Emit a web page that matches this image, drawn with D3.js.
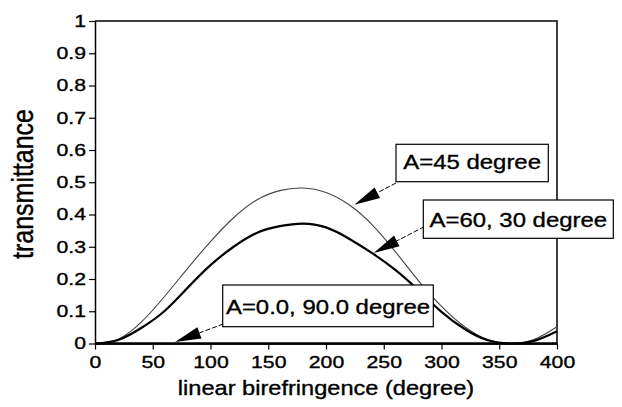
<!DOCTYPE html>
<html><head><meta charset="utf-8">
<script src="https://cdn.jsdelivr.net/npm/d3@7"></script>
<style>
html,body{margin:0;padding:0;background:#fff;}
svg{display:block;}
text{font-family:"Liberation Sans",Arial,Helvetica,sans-serif;fill:#000;stroke:#000;stroke-width:0.35px;}
</style></head>
<body>
<svg id="chart" width="622" height="407"></svg>
<script>
// ---- data ----
const birefringence = [0,20,40,60,80,100,120,140,160,180,200,220,240,260,280,300,320,340,360,380,400];
const transA45   = [0,0.013,0.066,0.145,0.232,0.316,0.39,0.445,0.474,0.482,0.468,0.43,0.368,0.285,0.195,0.115,0.052,0.012,0,0.012,0.052];
const transA6030 = [0,0.011,0.048,0.1,0.172,0.243,0.3,0.343,0.364,0.372,0.36,0.325,0.28,0.228,0.165,0.098,0.045,0.01,0,0.008,0.038];
const transA0090 = [0,0,0,0,0,0,0,0,0,0,0,0,0,0,0,0,0,0,0,0,0];
const xTicks = [0,50,100,150,200,250,300,350,400];
const xTickLabels = ["0","50","100","150","200","250","300","350","400"];
const yTicks = [0,0.1,0.2,0.3,0.4,0.5,0.6,0.7,0.8,0.9,1];
const yTickLabels = ["0","0.1","0.2","0.3","0.4","0.5","0.6","0.7","0.8","0.9","1"];
const annotationLabels = ["A=45 degree","A=60, 30 degree","A=0.0, 90.0 degree"];
// arrow tips in data units (birefringence, transmittance)
const arrowTipX = [224.5, 241.3, 69.3];
const arrowTipY = [0.43, 0.281, 0.005];
const xTitle = "linear birefringence (degree)";
const yTitle = "transmittance";

// ---- layout ----
const L = 95, R = 557, T = 21, B = 343.5;
const svg = d3.select("#chart");
const x = d3.scaleLinear().domain([0,400]).range([L,R]);
const y = d3.scaleLinear().domain([0,1]).range([B,T]);

// frame (top & right)
svg.append("path").attr("d",`M${L},${T}H${R}V${B}`).attr("fill","none").attr("stroke","#000").attr("stroke-width",1.5);

// axes
const tickStretch = 1.25;
const gx = svg.append("g").attr("transform",`translate(0,${B})`)
  .call(d3.axisBottom(x).tickValues(xTicks).tickFormat((d,i)=>xTickLabels[i]).tickSize(6).tickSizeOuter(0).tickPadding(6));
const gy = svg.append("g").attr("transform",`translate(${L},0)`)
  .call(d3.axisLeft(y).tickValues(yTicks).tickFormat((d,i)=>yTickLabels[i]).tickSize(6).tickSizeOuter(0).tickPadding(3));
[gx,gy].forEach(g=>{
  g.select(".domain").attr("stroke","#000").attr("stroke-width",1.5);
  g.selectAll(".tick line").attr("stroke","#000").attr("stroke-width",1.2);
  g.selectAll(".tick text").attr("font-size",17).attr("font-family","Liberation Sans, Arial, sans-serif")
    .attr("fill","#000").attr("stroke","#000").attr("stroke-width",0.4);
});
gy.selectAll(".tick text").attr("x",-9/tickStretch).attr("transform",`scale(${tickStretch},1)`);
gx.selectAll(".tick text").attr("transform",`scale(${tickStretch},1)`);

// curves
const pts = arr => birefringence.map((d,i)=>[d,arr[i]]);
const line = d3.line().x(d=>x(d[0])).y(d=>y(d[1])).curve(d3.curveNatural);
svg.append("path").datum(pts(transA45)).attr("d",line).attr("fill","none").attr("stroke","#444").attr("stroke-width",1.1);
svg.append("path").datum(pts(transA6030)).attr("d",line).attr("fill","none").attr("stroke","#000").attr("stroke-width",2.2);
svg.append("path").datum(pts(transA0090)).attr("d",line).attr("fill","none").attr("stroke","#000").attr("stroke-width",2.5);

// annotation boxes (pixel geometry) and arrows
const boxes = [
  {x:396,   y:144.3, w:152.3, h:37.4, base:24.5, sx:396,   sy:183},
  {x:423.3, y:200,   w:190,   h:38.3, base:26.5, sx:424.3, sy:226.7},
  {x:222.7, y:285,   w:210.6, h:41.7, base:28.5, sx:223.3, sy:324}
];
boxes.forEach((b,i)=>{
  const tx = x(arrowTipX[i]), ty = y(arrowTipY[i]);
  const dx = tx-b.sx, dy = ty-b.sy, len = Math.hypot(dx,dy);
  const ux = dx/len, uy = dy/len, nx = -uy, ny = ux;
  const HL = 26, HW = 6;
  const bx = tx-ux*HL, by = ty-uy*HL;
  svg.append("line").attr("x1",b.sx).attr("y1",b.sy).attr("x2",bx).attr("y2",by)
    .attr("stroke","#000").attr("stroke-width",1).attr("stroke-dasharray","5,2");
  svg.append("path").attr("d",`M${tx},${ty}L${bx+nx*HW},${by+ny*HW}L${bx-nx*HW},${by-ny*HW}Z`).attr("fill","#000");
  svg.append("rect").attr("x",b.x).attr("y",b.y).attr("width",b.w).attr("height",b.h)
    .attr("fill","#fff").attr("stroke","#000").attr("stroke-width",1.2);
  svg.append("text").attr("transform",`translate(${b.x+b.w/2},${b.y+b.base}) scale(1.14,1)`)
    .attr("text-anchor","middle").attr("font-size",21).text(annotationLabels[i]);
});

// titles
svg.append("text").attr("transform",`translate(${(L+R)/2},395) scale(1.18,1)`)
  .attr("text-anchor","middle").attr("font-size",20).text(xTitle);
svg.append("text").attr("transform",`translate(33,184) scale(1.2,1) rotate(-90)`)
  .attr("text-anchor","middle").attr("font-size",25).text(yTitle);
</script>
</body></html>
